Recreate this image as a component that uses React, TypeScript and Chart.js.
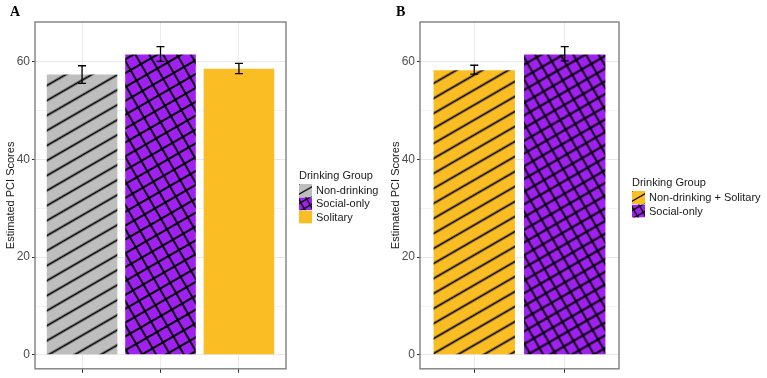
import React, { useEffect, useRef } from 'react';
import { Chart, registerables } from 'chart.js';
Chart.register(...registerables);

// ---------- data ----------
const yTitle = 'Estimated PCI Scores';
const legendTitle = 'Drinking Group';
const yMajorTicks = [0, 20, 40, 60];
const yMinorTicks = [10, 30, 50];

const panelLabelA = 'A';
const categoriesA = ['Non-drinking', 'Social-only', 'Solitary'];
const meansA = [57.4, 61.5, 58.6];
const lowerA = [55.6, 60.1, 57.6];
const upperA = [59.2, 63.1, 59.7];

const panelLabelB = 'B';
const categoriesB = ['Non-drinking + Solitary', 'Social-only'];
const meansB = [58.3, 61.5];
const lowerB = [57.5, 60.2];
const upperB = [59.3, 63.1];

// ---------- styles ----------
const GRAY = '#bebebe';
const PURPLE = '#a020f0';
const YELLOW = '#fbbd24';
type Fill = { base: string; kind: 'stripe' | 'crosshatch' | 'none' };
const fillsA: Fill[] = [
  { base: GRAY, kind: 'stripe' },
  { base: PURPLE, kind: 'crosshatch' },
  { base: YELLOW, kind: 'none' },
];
const fillsB: Fill[] = [
  { base: YELLOW, kind: 'stripe' },
  { base: PURPLE, kind: 'crosshatch' },
];

const FONT = '"Liberation Sans", Arial, sans-serif';
const ANGLE = 30;

function makePattern(ctx: CanvasRenderingContext2D, f: Fill, spacing: number): any {
  if (f.kind === 'none') return f.base;
  const s = spacing;
  const c = document.createElement('canvas');
  c.width = s;
  c.height = s;
  const g = c.getContext('2d')!;
  g.fillStyle = f.base;
  g.fillRect(0, 0, s, s);
  g.strokeStyle = '#000';
  g.lineWidth = 1.8;
  g.beginPath();
  g.moveTo(0, s / 2);
  g.lineTo(s, s / 2);
  if (f.kind === 'crosshatch') {
    g.moveTo(s / 2, 0);
    g.lineTo(s / 2, s);
  }
  g.stroke();
  const p = ctx.createPattern(c, 'repeat')!;
  p.setTransform(new DOMMatrix().rotate(-ANGLE));
  return p;
}

function drawSwatch(ctx: CanvasRenderingContext2D, f: Fill, x: number, y: number, size: number) {
  ctx.save();
  ctx.beginPath();
  ctx.rect(x, y, size, size);
  ctx.clip();
  ctx.fillStyle = f.base;
  ctx.fillRect(x, y, size, size);
  if (f.kind !== 'none') {
    const cx = x + size / 2;
    const cy = y + size / 2;
    const a = (-ANGLE * Math.PI) / 180;
    const dirs = f.kind === 'crosshatch' ? [a, a + Math.PI / 2] : [a];
    const sp = f.kind === 'crosshatch' ? 7 : 9;
    ctx.strokeStyle = '#111';
    ctx.lineWidth = 1.5;
    dirs.forEach((d) => {
      const ux = Math.cos(d), uy = Math.sin(d);
      const nx = -uy, ny = ux;
      for (let k = -2; k <= 2; k++) {
        const off = k + (f.kind === 'crosshatch' ? 0.5 : 0);
        const ox = cx + nx * sp * off;
        const oy = cy + ny * sp * off;
        ctx.beginPath();
        ctx.moveTo(ox - ux * 30, oy - uy * 30);
        ctx.lineTo(ox + ux * 30, oy + uy * 30);
        ctx.stroke();
      }
    });
  }
  ctx.restore();
}

type PanelCfg = {
  width: number;
  label: string;
  labelX: number;
  categories: string[];
  means: number[];
  lower: number[];
  upper: number[];
  fills: Fill[];
  stripeSpacing: number;
  hatchSpacing: number;
  padLeft: number;
  yWidth: number;
  padRight: number;
  legendX: number;
  legendY: number;
  legendStep: number;
};

function Panel({ cfg, left }: { cfg: PanelCfg; left: number }) {
  const ref = useRef<HTMLCanvasElement>(null);
  useEffect(() => {
    const canvas = ref.current!;
    const ctx = canvas.getContext('2d')!;
    const n = cfg.categories.length;
    const bg = cfg.fills.map((f) =>
      makePattern(ctx, f, f.kind === 'crosshatch' ? cfg.hatchSpacing : cfg.stripeSpacing)
    );

    const decor = {
      id: 'decor',
      afterDatasetsDraw(chart: any) {
        const c = chart.ctx;
        const ys = chart.scales.y;
        const meta = chart.getDatasetMeta(0);
        c.save();
        c.strokeStyle = '#000';
        c.lineWidth = 1.3;
        meta.data.forEach((bar: any, i: number) => {
          const x = bar.x;
          const y1 = ys.getPixelForValue(cfg.lower[i]);
          const y2 = ys.getPixelForValue(cfg.upper[i]);
          c.beginPath();
          c.moveTo(x, y1);
          c.lineTo(x, y2);
          c.moveTo(x - 4, y1);
          c.lineTo(x + 4, y1);
          c.moveTo(x - 4, y2);
          c.lineTo(x + 4, y2);
          c.stroke();
        });
        const a = chart.chartArea;
        c.strokeStyle = '#7f7f7f';
        c.lineWidth = 1.4;
        c.strokeRect(a.left, a.top, a.right - a.left, a.bottom - a.top);
        c.restore();
      },
      afterDraw(chart: any) {
        const c = chart.ctx;
        c.save();
        c.fillStyle = '#000';
        c.font = 'bold 14px "Liberation Serif", "Times New Roman", serif';
        c.textBaseline = 'middle';
        c.fillText(cfg.label, cfg.labelX, 12);
        c.font = '11px ' + FONT;
        c.fillStyle = '#1a1a1a';
        c.fillText(legendTitle, cfg.legendX, cfg.legendY);
        cfg.categories.forEach((cat, i) => {
          const sy = cfg.legendY + 8 + i * cfg.legendStep;
          drawSwatch(c, cfg.fills[i], cfg.legendX, sy, 13);
          c.fillStyle = '#1a1a1a';
          c.textBaseline = 'middle';
          c.fillText(cat, cfg.legendX + 17, sy + 7);
        });
        c.restore();
      },
    };

    const chart = new Chart(canvas, {
      type: 'bar',
      data: {
        labels: cfg.categories,
        datasets: [
          {
            label: legendTitle,
            data: cfg.means.map((m, i) => ({ x: i + 1, y: m })) as any,
            backgroundColor: bg,
            borderWidth: 0,
            barPercentage: 0.9,
            categoryPercentage: 1,
          },
        ],
      },
      options: {
        responsive: false,
        animation: false,
        events: [],
        layout: { padding: { top: 22, left: cfg.padLeft, right: cfg.padRight, bottom: 0 } },
        plugins: { legend: { display: false }, tooltip: { enabled: false }, title: { display: false } },
        scales: {
          x: {
            type: 'linear',
            min: 0.4,
            max: n + 0.6,
            offset: false,
            border: { display: false },
            afterBuildTicks: (s: any) => {
              s.ticks = cfg.categories.map((_, i) => ({ value: i + 1 }));
            },
            afterFit: (s: any) => {
              s.height = 8;
            },
            ticks: { callback: () => '', padding: 0 },
            grid: {
              offset: false,
              color: '#ebebeb',
              lineWidth: 1,
              drawTicks: true,
              tickLength: 4,
              tickColor: '#333',
              tickWidth: 1,
            },
          },
          y: {
            type: 'linear',
            min: -2.86,
            max: 68.16,
            border: { display: false },
            afterBuildTicks: (s: any) => {
              s.ticks = [...yMajorTicks, ...yMinorTicks]
                .sort((a, b) => a - b)
                .map((v) => ({ value: v }));
            },
            afterFit: (s: any) => {
              s.width = cfg.yWidth;
            },
            ticks: {
              callback: (v: any) => (yMajorTicks.includes(Number(v)) ? String(v) : ''),
              color: '#4d4d4d',
              font: { family: FONT, size: 12 },
              padding: 2,
            },
            grid: {
              color: (c: any) => (yMajorTicks.includes(c.tick?.value) ? '#e8e8e8' : '#f3f3f3'),
              lineWidth: 1,
              drawTicks: true,
              tickLength: 3,
              tickColor: (c: any) => (yMajorTicks.includes(c.tick?.value) ? '#333' : 'rgba(0,0,0,0)'),
            },
            title: {
              display: true,
              text: yTitle,
              color: '#1a1a1a',
              font: { family: FONT, size: 11 },
              padding: { top: 4, bottom: 4 },
            },
          },
        },
      },
      plugins: [decor],
    } as any);
    return () => chart.destroy();
  }, []);
  return (
    <div style={{ position: 'absolute', left, top: 0, width: cfg.width, height: 378 }}>
      <canvas ref={ref} width={cfg.width} height={378} style={{ display: 'block' }} />
    </div>
  );
}

const cfgA: PanelCfg = {
  width: 383,
  label: panelLabelA,
  labelX: 10,
  categories: categoriesA,
  means: meansA,
  lower: lowerA,
  upper: upperA,
  fills: fillsA,
  stripeSpacing: 13,
  hatchSpacing: 12,
  padLeft: 0,
  yWidth: 35,
  padRight: 383 - 286,
  legendX: 299,
  legendY: 176,
  legendStep: 13.3,
};

const cfgB: PanelCfg = {
  width: 384,
  label: panelLabelB,
  labelX: 13,
  categories: categoriesB,
  means: meansB,
  lower: lowerB,
  upper: upperB,
  fills: fillsB,
  stripeSpacing: 13,
  hatchSpacing: 11,
  padLeft: 2,
  yWidth: 35,
  padRight: 384 - 236,
  legendX: 249,
  legendY: 183,
  legendStep: 13.5,
};

export default function App() {
  return (
    <div style={{ position: 'fixed', left: 0, top: 0, width: 767, height: 378, background: '#fff', overflow: 'hidden' }}>
      <Panel cfg={cfgA} left={0} />
      <Panel cfg={cfgB} left={383} />
    </div>
  );
}
